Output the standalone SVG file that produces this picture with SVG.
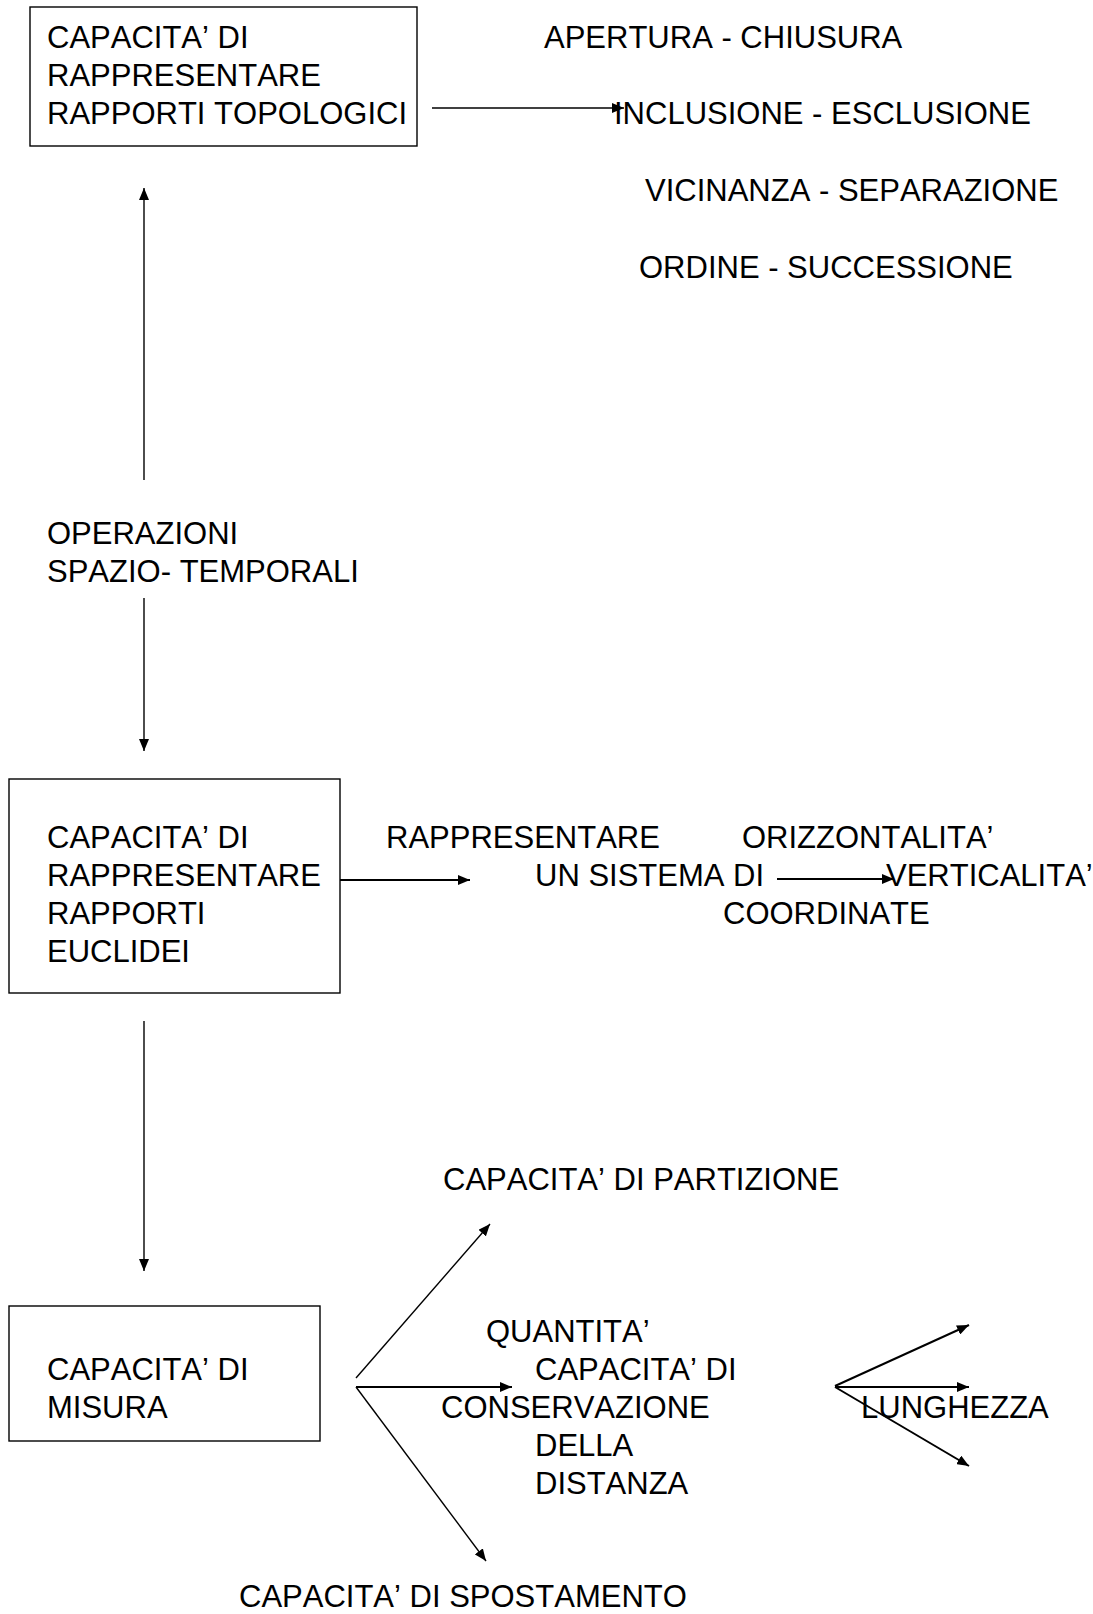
<svg xmlns="http://www.w3.org/2000/svg" width="1093" height="1614" viewBox="0 0 1093 1614">
  <defs>
    <marker id="arrow" viewBox="0 0 12 10" refX="12" refY="5" markerWidth="12" markerHeight="10" markerUnits="userSpaceOnUse" orient="auto">
      <path d="M0,0 L12,5 L0,10 Z" fill="#000"/>
    </marker>
    <style>
      text { font-family: "Liberation Sans", Arial, sans-serif; font-size: 31px; fill: #000; font-kerning: none; }
      .box { fill: #fff; stroke: #000; stroke-width: 1.4; }
      .link { stroke: #000; stroke-width: 1.4; fill: none; marker-end: url(#arrow); }
      .bold { stroke-width: 2; }
    </style>
  </defs>
  <rect width="1093" height="1614" fill="#fff"/>

  <!-- connectors -->
  <g id="connectors">
    <line class="link" x1="432" y1="108" x2="624" y2="108"/>
    <line class="link" x1="144" y1="480" x2="144" y2="188"/>
    <line class="link" x1="144" y1="598" x2="144" y2="751"/>
    <line class="link bold" x1="336" y1="880" x2="470" y2="880"/>
    <line class="link bold" x1="777" y1="879" x2="894" y2="879"/>
    <line class="link" x1="144" y1="1021" x2="144" y2="1271"/>
    <line class="link" x1="356" y1="1378" x2="490" y2="1224"/>
    <line class="link bold" x1="356" y1="1387" x2="512" y2="1387"/>
    <line class="link" x1="356" y1="1387" x2="486" y2="1561"/>
    <line class="link bold" x1="835" y1="1386" x2="969" y2="1325"/>
    <line class="link bold" x1="835" y1="1387" x2="969" y2="1387"/>
    <line class="link bold" x1="835" y1="1387" x2="969" y2="1466"/>
  </g>

  <!-- topological relations -->
  <g id="node-topologici">
    <rect class="box" x="30" y="7" width="387" height="139"/>
    <text x="47" y="48">CAPACITA’ DI</text>
    <text x="47" y="86">RAPPRESENTARE</text>
    <text x="47" y="124">RAPPORTI TOPOLOGICI</text>
  </g>
  <g id="node-apertura"><text x="544" y="48">APERTURA - CHIUSURA</text></g>
  <g id="node-inclusione"><text x="614" y="124">INCLUSIONE - ESCLUSIONE</text></g>
  <g id="node-vicinanza"><text x="645" y="201">VICINANZA - SEPARAZIONE</text></g>
  <g id="node-ordine"><text x="639" y="278">ORDINE - SUCCESSIONE</text></g>

  <!-- spatio-temporal operations -->
  <g id="node-operazioni">
    <text x="47" y="544">OPERAZIONI</text>
    <text x="47" y="582">SPAZIO- TEMPORALI</text>
  </g>

  <!-- euclidean relations -->
  <g id="node-euclidei">
    <rect class="box" x="9" y="779" width="331" height="214"/>
    <text x="47" y="848">CAPACITA’ DI</text>
    <text x="47" y="886">RAPPRESENTARE</text>
    <text x="47" y="924">RAPPORTI</text>
    <text x="47" y="962">EUCLIDEI</text>
  </g>
  <g id="node-coordinate">
    <text x="386" y="848">RAPPRESENTARE</text>
    <text x="535" y="886">UN SISTEMA DI</text>
    <text x="723" y="924">COORDINATE</text>
  </g>
  <g id="node-orizzontalita"><text x="742" y="848">ORIZZONTALITA’</text></g>
  <g id="node-verticalita"><text x="886" y="886">VERTICALITA’</text></g>

  <!-- measurement -->
  <g id="node-partizione"><text x="443" y="1190">CAPACITA’ DI PARTIZIONE</text></g>
  <g id="node-misura">
    <rect class="box" x="9" y="1306" width="311" height="135"/>
    <text x="47" y="1380">CAPACITA’ DI</text>
    <text x="47" y="1418">MISURA</text>
  </g>
  <g id="node-quantita"><text x="486" y="1342">QUANTITA’</text></g>
  <g id="node-conservazione">
    <text x="535" y="1380">CAPACITA’ DI</text>
    <text x="441" y="1418">CONSERVAZIONE</text>
    <text x="535" y="1456">DELLA</text>
    <text x="535" y="1494">DISTANZA</text>
  </g>
  <g id="node-lunghezza"><text x="861" y="1418">LUNGHEZZA</text></g>
  <g id="node-spostamento"><text x="239" y="1607">CAPACITA’ DI SPOSTAMENTO</text></g>
</svg>
